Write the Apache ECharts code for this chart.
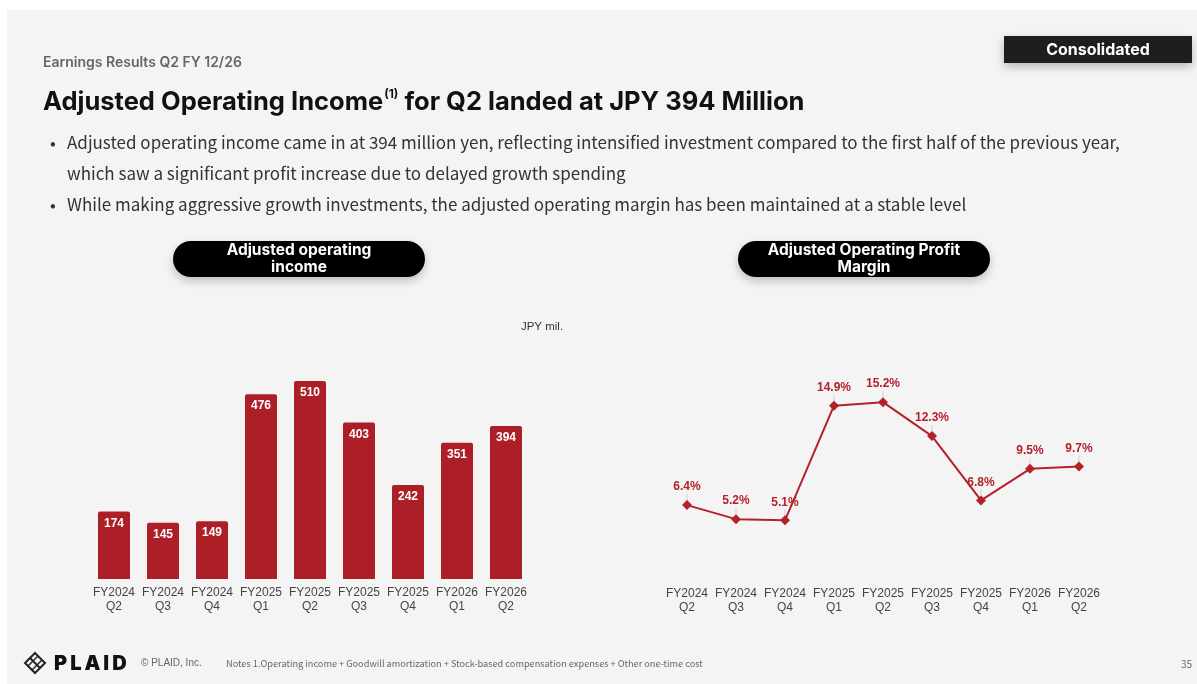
<!DOCTYPE html>
<html>
<head>
<meta charset="utf-8">
<script src="https://cdn.jsdelivr.net/npm/echarts@6/dist/echarts.min.js"></script>
<style>
  html, body { margin: 0; padding: 0; background: #ffffff; }
  #chart { width: 1197px; height: 684px; }
</style>
</head>
<body>
<div id="chart"></div>
<script>
// Quarters shown on both charts
const quarters = ['FY2024\nQ2', 'FY2024\nQ3', 'FY2024\nQ4', 'FY2025\nQ1', 'FY2025\nQ2',
                  'FY2025\nQ3', 'FY2025\nQ4', 'FY2026\nQ1', 'FY2026\nQ2'];
// Adjusted operating income, JPY mil.
const adjustedIncome = [174, 145, 149, 476, 510, 403, 242, 351, 394];
// Adjusted operating profit margin, %
const adjustedMargin = [6.4, 5.2, 5.1, 14.9, 15.2, 12.3, 6.8, 9.5, 9.7];

const RED = '#ad1f27';
const TEXT_FONT = '"Noto Sans CJK JP", "Noto Sans", sans-serif';
const HEAD_FONT = 'Inter, "Open Sans", sans-serif';
const AXIS_FONT = '"Liberation Sans", Arial, sans-serif';

const chart = echarts.init(document.getElementById('chart'), null, { renderer: 'canvas' });

function pill(cx, cy, w, h, lines) {
  return [
    {
      type: 'rect', z: 10,
      shape: { x: cx - w / 2, y: cy - h / 2, width: w, height: h, r: h / 2 },
      style: { fill: '#000000', shadowBlur: 10, shadowOffsetY: 4, shadowColor: 'rgba(0,0,0,0.22)' }
    },
    {
      type: 'text', z: 11, x: cx, y: cy,
      style: {
        text: lines, fill: '#ffffff', font: '700 15.5px ' + HEAD_FONT,
        align: 'center', verticalAlign: 'middle', lineHeight: 17
      }
    }
  ];
}

// Wordmark letters spaced out by hand
function spacedWord(word, x, y, font, gap, color) {
  const ctx = document.createElement('canvas').getContext('2d');
  ctx.font = font;
  const out = [];
  let cx = x;
  for (const ch of word) {
    out.push({ type: 'text', z: 5, x: cx, y: y,
               style: { text: ch, fill: color, font: font, verticalAlign: 'middle' } });
    cx += ctx.measureText(ch).width + gap;
  }
  return out;
}

const bullets = [
  'Adjusted operating income came in at 394 million yen, reflecting intensified investment compared to the first half of the previous year,',
  'which saw a significant profit increase due to delayed growth spending',
  'While making aggressive growth investments, the adjusted operating margin has been maintained at a stable level'
];

const BULLET_FONT = '17px ' + TEXT_FONT;

const graphics = [
  // slide panel
  { type: 'rect', z: 0, shape: { x: 7, y: 10, width: 1190, height: 674 }, style: { fill: '#f4f4f4' } },
  { type: 'text', z: 5, x: 43, y: 63,
    style: { text: 'Earnings Results Q2 FY 12/26', fill: '#666666', font: '600 14px ' + HEAD_FONT, verticalAlign: 'middle' } },
  { type: 'text', z: 5, x: 43, y: 85,
    style: {
      text: '{a|Adjusted Operating Income}{s|(1)}{a| for Q2 landed at JPY 394 Million}',
      rich: {
        a: { font: '700 25.5px ' + HEAD_FONT, fill: '#111111', lineHeight: 30, verticalAlign: 'bottom' },
        s: { font: '700 12px ' + HEAD_FONT, fill: '#111111', lineHeight: 30, verticalAlign: 'top', padding: [3, 0, 0, 1] }
      }
    } },
  // bullets
  { type: 'text', z: 5, x: 50, y: 143, style: { text: '•', fill: '#333333', font: BULLET_FONT, verticalAlign: 'middle' } },
  { type: 'text', z: 5, x: 50, y: 205, style: { text: '•', fill: '#333333', font: BULLET_FONT, verticalAlign: 'middle' } },
  { type: 'text', z: 5, x: 67, y: 143, style: { text: bullets[0], fill: '#333333', font: BULLET_FONT, verticalAlign: 'middle' } },
  { type: 'text', z: 5, x: 67, y: 174, style: { text: bullets[1], fill: '#333333', font: BULLET_FONT, verticalAlign: 'middle' } },
  { type: 'text', z: 5, x: 67, y: 205, style: { text: bullets[2], fill: '#333333', font: BULLET_FONT, verticalAlign: 'middle' } },
  // consolidated tag
  { type: 'rect', z: 10, shape: { x: 1004, y: 36, width: 188, height: 27 },
    style: { fill: '#1e1e1e', shadowBlur: 10, shadowOffsetY: 4, shadowColor: 'rgba(0,0,0,0.25)' } },
  { type: 'text', z: 11, x: 1098, y: 50,
    style: { text: 'Consolidated', fill: '#ffffff', font: '700 16px ' + HEAD_FONT, align: 'center', verticalAlign: 'middle' } },
  ...pill(299, 259, 252, 36, 'Adjusted operating\nincome'),
  ...pill(864, 259, 252, 36, 'Adjusted Operating Profit\nMargin'),
  { type: 'text', z: 5, x: 542, y: 327,
    style: { text: 'JPY mil.', fill: '#333333', font: '11.5px ' + AXIS_FONT, align: 'center', verticalAlign: 'middle' } },
  // footer logo mark
  { type: 'group', z: 5, x: 35, y: 663, children: [
      { type: 'polygon', shape: { points: [[0, -10], [10, 0], [0, 10], [-10, 0]] },
        style: { fill: 'none', stroke: '#222222', lineWidth: 2 } },
      { type: 'polyline', shape: { points: [[-5, -5], [5, 5]] }, style: { stroke: '#222222', lineWidth: 2 } },
      { type: 'polyline', shape: { points: [[-7, 3], [3, -7]] }, style: { stroke: '#222222', lineWidth: 1.5 } },
      { type: 'polyline', shape: { points: [[-3, 7], [7, -3]] }, style: { stroke: '#222222', lineWidth: 1.5 } }
    ] },
  ...spacedWord('PLAID', 54, 664, '900 20px ' + HEAD_FONT, 3, '#111111'),
  { type: 'text', z: 5, x: 141, y: 663,
    style: { text: '© PLAID, Inc.', fill: '#666666', font: '10px ' + AXIS_FONT, verticalAlign: 'middle' } },
  { type: 'text', z: 5, x: 226, y: 664,
    style: { text: 'Notes 1.Operating income + Goodwill amortization + Stock-based compensation expenses + Other one-time cost',
             fill: '#666666', font: '9.2px ' + TEXT_FONT, verticalAlign: 'middle' } },
  { type: 'text', z: 5, x: 1192, y: 664,
    style: { text: '35', fill: '#666666', font: '10px ' + TEXT_FONT, align: 'right', verticalAlign: 'middle' } }
];

const axisLabel = { color: '#444444', fontSize: 12, fontFamily: AXIS_FONT, lineHeight: 14, margin: 7, interval: 0 };

chart.setOption({
  backgroundColor: 'transparent',
  animation: false,
  graphic: { elements: graphics },
  grid: [
    { left: 89.5, width: 441, top: 346, height: 233 },
    { left: 662.5, width: 441, top: 346, height: 234 }
  ],
  xAxis: [
    { type: 'category', gridIndex: 0, data: quarters, axisLine: { show: false }, axisTick: { show: false }, axisLabel },
    { type: 'category', gridIndex: 1, data: quarters, axisLine: { show: false }, axisTick: { show: false }, axisLabel }
  ],
  yAxis: [
    { type: 'value', gridIndex: 0, min: 0, max: 600, show: false },
    { type: 'value', gridIndex: 1, min: 0, max: 20, show: false }
  ],
  series: [
    {
      type: 'bar', xAxisIndex: 0, yAxisIndex: 0, data: adjustedIncome, barWidth: 32,
      itemStyle: { color: RED, borderRadius: [2, 2, 0, 0] },
      label: { show: true, position: 'insideTop', distance: 6, color: '#ffffff',
               fontWeight: 'bold', fontSize: 12, fontFamily: AXIS_FONT }
    },
    {
      // short grey leader from each margin label down to its point
      type: 'custom', xAxisIndex: 1, yAxisIndex: 1, data: adjustedMargin, z: 1, silent: true,
      renderItem: function (params, api) {
        const p = api.coord([api.value(0), api.value(1)]);
        return { type: 'line', shape: { x1: p[0], y1: p[1] - 4, x2: p[0], y2: p[1] - 11 },
                 style: { stroke: '#d0d0d0', lineWidth: 1 } };
      },
      encode: { x: 0, y: 1 }
    },
    {
      type: 'line', xAxisIndex: 1, yAxisIndex: 1, data: adjustedMargin, z: 3,
      symbol: 'diamond', symbolSize: 10,
      lineStyle: { color: '#b3222b', width: 2 },
      itemStyle: { color: '#b3222b' },
      label: { show: true, position: 'top', distance: 7, color: '#b3222b', fontWeight: 'bold',
               fontSize: 12, fontFamily: AXIS_FONT, formatter: p => p.value.toFixed(1) + '%' }
    }
  ]
});
</script>
</body>
</html>
